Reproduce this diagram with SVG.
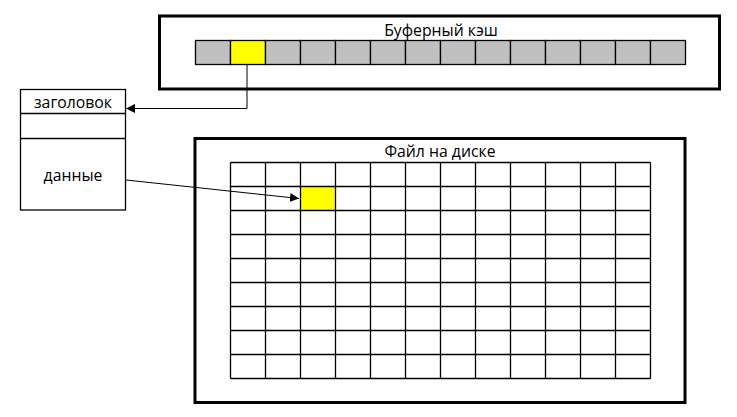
<svg xmlns="http://www.w3.org/2000/svg" width="737" height="417" viewBox="0 0 737 417">
<style>
.frame{fill:#fff;stroke:#000;stroke-width:3}
.cc{fill:#c0c0c0;stroke:#000;stroke-width:1.3}
.hl{fill:#ffff00}
.gl{stroke:#000;stroke-width:1.3;fill:none}
.t{font-family:"Open Sans","DejaVu Sans",sans-serif;font-size:15.8px;fill:#000;text-anchor:middle}
.conn{stroke:#000;stroke-width:1;fill:none}
</style>
<defs>
<marker id="ah" viewBox="0 0 10 10" refX="10" refY="5" markerWidth="9" markerHeight="9" markerUnits="userSpaceOnUse" orient="auto">
<path d="M0,0 L10,5 L0,10 z" fill="#000"/>
</marker>
</defs>
<rect width="737" height="417" fill="#fff"/>
<g id="buffer-cache">
<rect class="frame" x="159.5" y="16" width="560" height="73"/>
<text class="t" x="441" y="35.5">Буферный кэш</text>
<g>
<rect class="cc" x="195.5" y="40.5" width="35" height="24"/>
<rect class="cc hl" x="230.5" y="40.5" width="35" height="24"/>
<rect class="cc" x="265.5" y="40.5" width="35" height="24"/>
<rect class="cc" x="300.5" y="40.5" width="35" height="24"/>
<rect class="cc" x="335.5" y="40.5" width="35" height="24"/>
<rect class="cc" x="370.5" y="40.5" width="35" height="24"/>
<rect class="cc" x="405.5" y="40.5" width="35" height="24"/>
<rect class="cc" x="440.5" y="40.5" width="35" height="24"/>
<rect class="cc" x="475.5" y="40.5" width="35" height="24"/>
<rect class="cc" x="510.5" y="40.5" width="35" height="24"/>
<rect class="cc" x="545.5" y="40.5" width="35" height="24"/>
<rect class="cc" x="580.5" y="40.5" width="35" height="24"/>
<rect class="cc" x="615.5" y="40.5" width="35" height="24"/>
<rect class="cc" x="650.5" y="40.5" width="35" height="24"/>
</g>
</g>
<g id="buffer-page">
<rect x="20.5" y="89.5" width="105" height="120.5" fill="#fff" stroke="#000" stroke-width="1.3"/>
<line class="gl" x1="20.5" y1="113.5" x2="125.5" y2="113.5"/>
<line class="gl" x1="20.5" y1="138.5" x2="125.5" y2="138.5"/>
<text class="t" x="73" y="107.5">заголовок</text>
<text class="t" x="73" y="180.5">данные</text>
</g>
<g id="disk-file">
<rect class="frame" x="195" y="138.5" width="490" height="264"/>
<text class="t" x="440" y="156.5">Файл на диске</text>
<rect class="hl" x="300.5" y="186.5" width="35" height="24"/>
<g class="gl">
<path d="M230.5,162.5V378.5M265.5,162.5V378.5M300.5,162.5V378.5M335.5,162.5V378.5M370.5,162.5V378.5M405.5,162.5V378.5M440.5,162.5V378.5M475.5,162.5V378.5M510.5,162.5V378.5M545.5,162.5V378.5M580.5,162.5V378.5M615.5,162.5V378.5M650.5,162.5V378.5"/>
<path d="M230.5,162.5H650.5M230.5,186.5H650.5M230.5,210.5H650.5M230.5,234.5H650.5M230.5,258.5H650.5M230.5,282.5H650.5M230.5,306.5H650.5M230.5,330.5H650.5M230.5,354.5H650.5M230.5,378.5H650.5"/>
</g>
</g>
<g id="connectors">
<path class="conn" d="M247,64.5V108.5H126" marker-end="url(#ah)"/>
<path class="conn" d="M126,180L299,198.5" marker-end="url(#ah)"/>
</g>
</svg>
